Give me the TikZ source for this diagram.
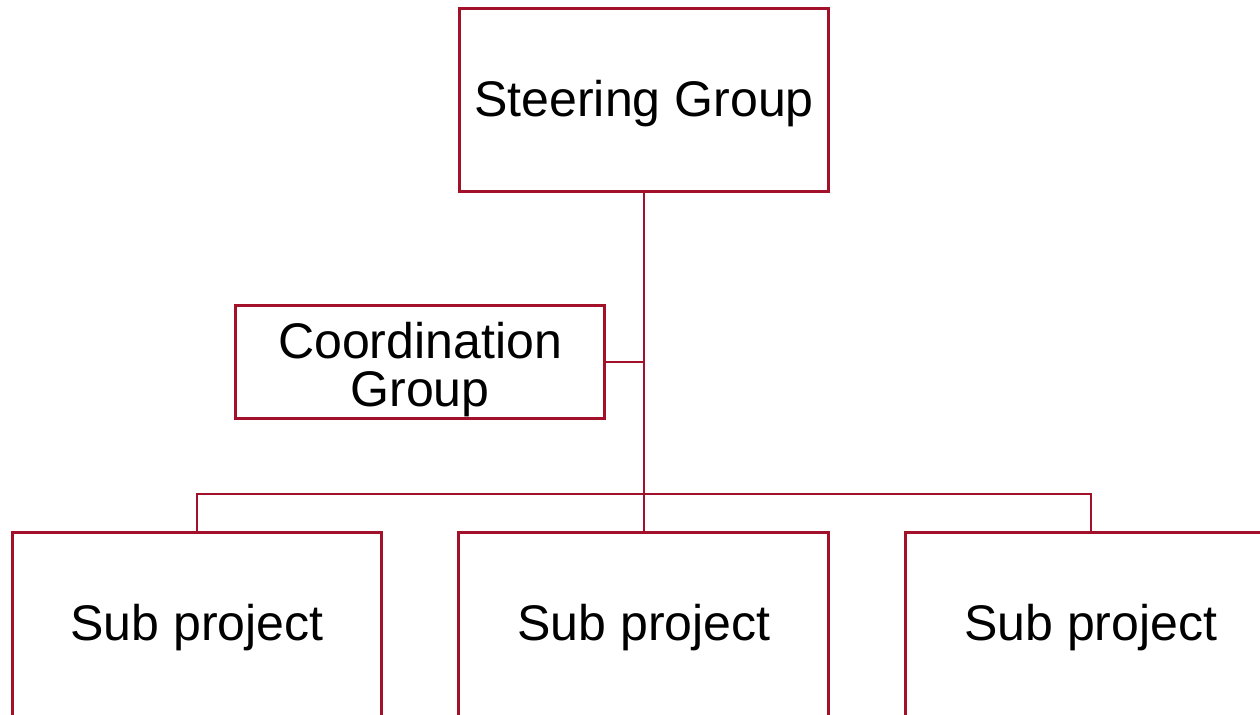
\documentclass[tikz,border=0pt]{standalone}
\usepackage{fontspec}
\setmainfont{Liberation Sans}
\usepackage{tikz}
\usetikzlibrary{chains,positioning}

\definecolor{boxred}{RGB}{163,16,42}

\begin{document}
\begin{tikzpicture}[
x=0.02cm,y=-0.02cm,
groupbox/.style={
  draw=boxred,
  line width=1.7pt,
  minimum width=7.4cm,
  minimum height=3.68cm,
  text height=25pt,
  text depth=6pt,
  align=center,
  font=\fontsize{28.5}{27.5}\selectfont
  },
link/.style={draw=boxred,line width=1.1pt}
]
\useasboundingbox (0,0) rectangle (1260,714);
\node[groupbox] (steer) at (644,100) {Steering Group};
\node[groupbox,minimum height=2.26cm,inner ysep=0pt,text height=,text depth=] (coord) at (420,362) {\rule{0pt}{29pt}Coordination\\Group};
\begin{scope}[shift={(197,624)},start chain=going right,node distance=1.48cm]
\foreach \Value in {1,2,3}
  \node[groupbox,on chain] (sub\Value) {Sub project};
\end{scope}
\coordinate (bar) at (sub2.north |- 0,494);
\path[link]
  (steer.south) -- (steer.south |- sub2.north)
  (coord.east) -- (coord.east -| steer.south)
  (sub1.north) |- (bar) -| (sub3.north);
\end{tikzpicture}
\end{document}
